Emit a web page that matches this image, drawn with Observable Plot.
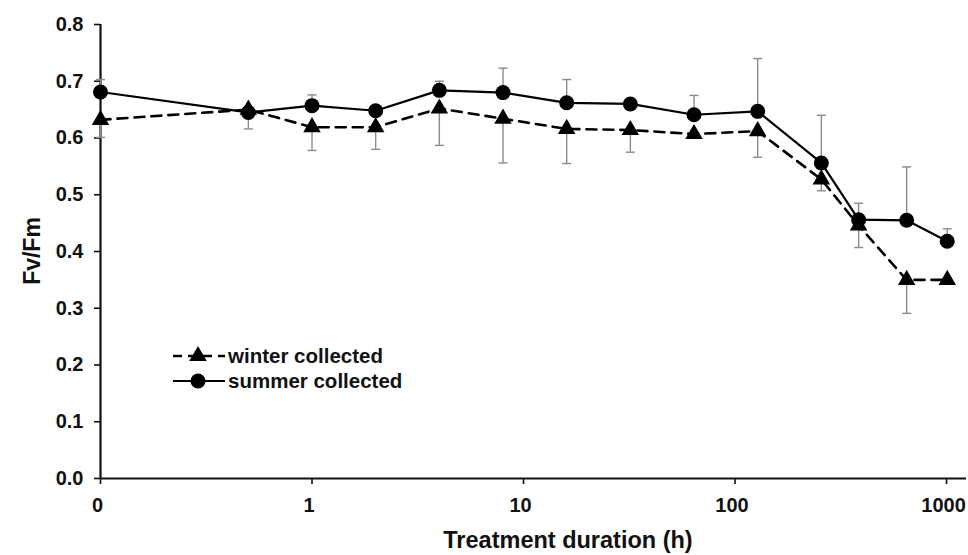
<!DOCTYPE html>
<html><head><meta charset="utf-8">
<script src="https://cdn.jsdelivr.net/npm/d3@7"></script>
<script src="https://cdn.jsdelivr.net/npm/@observablehq/plot@0.6"></script>
<style>
body{margin:0;background:#fff;}
#chart{position:relative;width:968px;height:555px;}
svg{font-family:"Liberation Sans",Arial,sans-serif;}
</style></head><body><div id="chart"></div>
<script>
// treatment duration (h); 0 is drawn at the "0" position of the log axis
const hours = [0, 0.5, 1, 2, 4, 8, 16, 32, 64, 128, 256, 384, 648, 1008];
const summer = [0.681, 0.645, 0.657, 0.648, 0.684, 0.680, 0.662, 0.660, 0.641, 0.647, 0.556, 0.456, 0.455, 0.418];
const summerErr = [0.022, 0.008, 0.019, 0.008, 0.016, 0.043, 0.041, 0.008, 0.034, 0.093, 0.084, 0.029, 0.094, 0.022];
const winter = [0.632, 0.650, 0.619, 0.619, 0.652, 0.634, 0.616, 0.614, 0.607, 0.612, 0.527, 0.446, 0.350, 0.350];
const winterErr = [0.031, 0.034, 0.041, 0.039, 0.065, 0.078, 0.061, 0.039, 0.005, 0.046, 0.020, 0.039, 0.059, 0.005];
const xTicks = [0.1, 1, 10, 100, 1000];
const xTickLabels = ["0", "1", "10", "100", "1000"];
const yTicks = [0, 0.1, 0.2, 0.3, 0.4, 0.5, 0.6, 0.7, 0.8];
const seriesNames = ["winter collected", "summer collected"];
const xTitle = "Treatment duration (h)";
const yTitle = "Fv/Fm";

const xpos = h => (h === 0 ? 0.1 : h);
const rows = hours.map((h, i) => ({x: xpos(h), s: summer[i], se: summerErr[i], w: winter[i], we: winterErr[i]}));
const cap = {draw(ctx, size) { const r = Math.sqrt(size / Math.PI); ctx.moveTo(-r, 0); ctx.lineTo(r, 0); }};
const errColor = "#8a8a8a";

const plot = Plot.plot({
  width: 968, height: 555,
  marginLeft: 100, marginRight: 2, marginTop: 24, marginBottom: 77,
  style: {fontFamily: "'Liberation Sans', Arial, sans-serif", fontSize: "20px", fontWeight: "bold", color: "#111", background: "#fff"},
  x: {type: "log", domain: [0.1, 1243]},
  y: {domain: [0, 0.8]},
  marks: [
    Plot.axisY({ticks: yTicks, tickFormat: d3.format(".1f"), tickSize: 6, tickPadding: 11, label: null, strokeWidth: 1.6, fontSize: 20}),
    Plot.axisX({ticks: xTicks, tickFormat: () => "", tickSize: 6, label: null, strokeWidth: 1.6}),
    Plot.axisX({ticks: xTicks, tickFormat: d => xTickLabels[xTicks.indexOf(d)], tickSize: 0, tickPadding: 19, label: null, fontSize: 20, dx: -3}),
    Plot.ruleX([0.1], {stroke: "#111", strokeWidth: 2.2}),
    Plot.ruleY([0], {stroke: "#111", strokeWidth: 2.2}),
    // error bars: summer upward, winter downward
    Plot.ruleX(rows, {x: "x", y1: "s", y2: d => d.s + d.se, stroke: errColor, strokeWidth: 1.4}),
    Plot.dot(rows, {x: "x", y: d => d.s + d.se, symbol: cap, r: 4.5, stroke: errColor, fill: "none", strokeWidth: 1.4}),
    Plot.ruleX(rows, {x: "x", y1: "w", y2: d => d.w - d.we, stroke: errColor, strokeWidth: 1.4}),
    Plot.dot(rows, {x: "x", y: d => d.w - d.we, symbol: cap, r: 4.5, stroke: errColor, fill: "none", strokeWidth: 1.4}),
    Plot.line(rows, {x: "x", y: "w", stroke: "#000", strokeWidth: 2.6, strokeDasharray: "10,7"}),
    Plot.line(rows, {x: "x", y: "s", stroke: "#000", strokeWidth: 2.2}),
    Plot.dot(rows, {x: "x", y: "w", symbol: "triangle", r: 6.5, fill: "#000", stroke: "none"}),
    Plot.dot(rows, {x: "x", y: "s", symbol: "circle", r: 7.5, fill: "#000", stroke: "none"})
  ]
});
document.getElementById("chart").appendChild(plot);

const svg = d3.select(plot);
svg.append("text").attr("transform", "translate(32,251) rotate(-90)")
  .attr("text-anchor", "middle").attr("dy", "0.35em")
  .style("font-size", "23px").style("font-weight", "bold").attr("fill", "#111").text(yTitle);
svg.append("text").attr("x", 568).attr("y", 548).attr("text-anchor", "middle")
  .style("font-size", "23.5px").style("font-weight", "bold").attr("fill", "#111").text(xTitle);

// legend
const lg = svg.append("g");
const legendRows = [
  {name: seriesNames[0], y: 356, dash: "9,6", width: 2.6, sym: d3.symbolTriangle, size: Math.PI * 6.5 * 6.5},
  {name: seriesNames[1], y: 381, dash: null, width: 2.2, sym: d3.symbolCircle, size: Math.PI * 7.5 * 7.5}
];
legendRows.forEach(r => {
  lg.append("line").attr("x1", 173).attr("x2", 225).attr("y1", r.y).attr("y2", r.y)
    .attr("stroke", "#000").attr("stroke-width", r.width).attr("stroke-dasharray", r.dash);
  lg.append("path").attr("d", d3.symbol(r.sym, r.size)()).attr("transform", `translate(198,${r.y})`).attr("fill", "#000");
  lg.append("text").attr("x", 228).attr("y", r.y).attr("dy", "0.35em").attr("text-anchor", "start")
    .style("font-size", "20.5px").style("font-weight", "bold").attr("fill", "#111").text(r.name);
});
</script></body></html>
